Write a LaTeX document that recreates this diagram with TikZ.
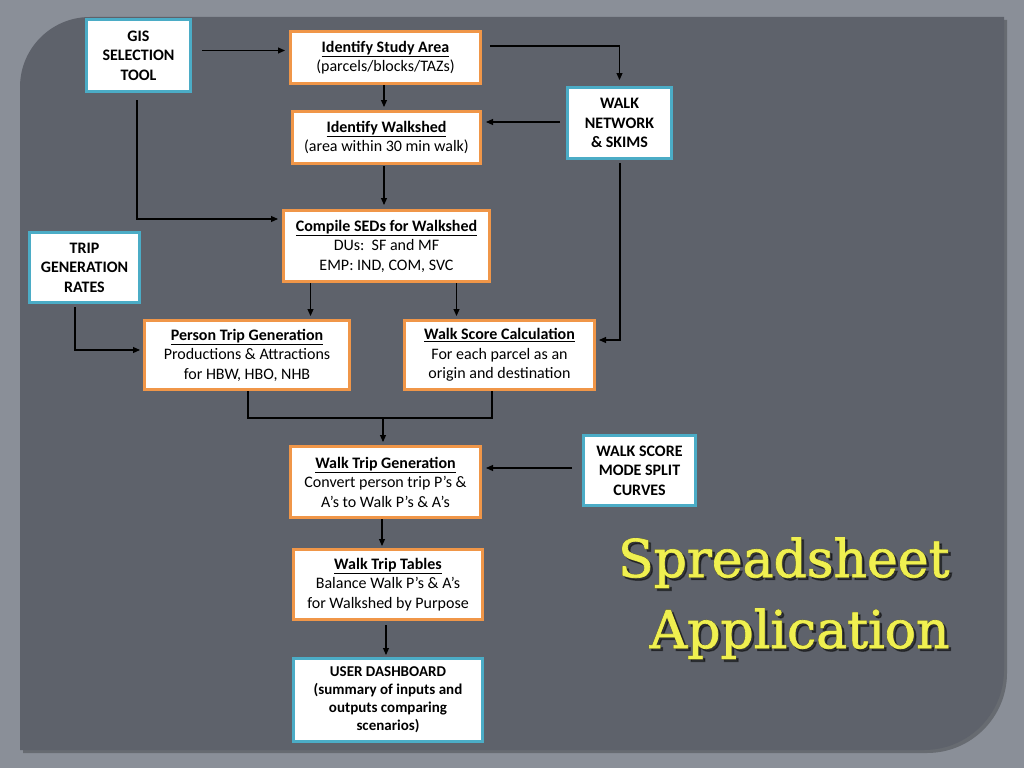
\documentclass[tikz,border=0pt]{standalone}
\usepackage{fontspec}
\setmainfont{Carlito}
\newfontfamily\titlefont{DejaVu Serif}[BoldFont={DejaVu Serif},BoldFeatures={FakeBold=1.2}]
\newfontfamily\titleoutline{DejaVu Serif}[BoldFont={DejaVu Serif},BoldFeatures={FakeBold=2.6}]
\usetikzlibrary{arrows.meta,calc}
\definecolor{outerbg}{RGB}{138,143,152}
\definecolor{panelbg}{RGB}{94,98,107}
\definecolor{obord}{RGB}{240,150,72}
\definecolor{bbord}{RGB}{75,172,198}
\definecolor{ttl}{RGB}{240,240,80}
\definecolor{ttlline}{RGB}{110,110,40}
\tikzset{
  box/.style={draw, line width=3pt, fill=white, align=center, inner sep=0pt,
    font=\fontsize{16}{19.5}\selectfont, text=black},
  obox/.style={box, draw=obord},
  bbox/.style={box, draw=bbord, font=\fontsize{16}{19.5}\selectfont\bfseries},
  arr/.style={draw=black, line width=1.1pt, -{Triangle[length=7pt,width=6pt]}},
  lin/.style={draw=black, line width=1.1pt},
  ttlstyle/.style={anchor=base east, align=right, font=\titlefont\bfseries\fontsize{52}{71}\selectfont},
  ttlout/.style={anchor=base east, align=right, font=\titleoutline\bfseries\fontsize{52}{71}\selectfont},
}
\newcommand{\hd}[1]{\textbf{\underline{#1}}}
\begin{document}
\begin{tikzpicture}[x=1pt,y=-1pt]
\useasboundingbox (0,0) rectangle (1024,768);
\fill[outerbg] (0,0) rectangle (1024,768);
% panel shadow
\fill[black,opacity=0.25] (23,753) -- (23,90) arc[start angle=180,end angle=270,radius=70] -- (1007,20) -- (1007,673) arc[start angle=0,end angle=90,radius=80] -- cycle;
\fill[panelbg] (20,750) -- (20,87) arc[start angle=180,end angle=270,radius=70] -- (1004,17) -- (1004,670) arc[start angle=0,end angle=90,radius=80] -- cycle;

\node[bbox, minimum width=104, minimum height=72] (gis) at (138.5,55.5) {GIS\\SELECTION\\TOOL};
\node[obox, minimum width=190, minimum height=52] (study) at (385.5,57.5) {\hd{Identify Study Area}\\(parcels/blocks/TAZs)};
\node[bbox, minimum width=104, minimum height=71] (walknet) at (619.5,123) {WALK\\NETWORK\\\& SKIMS};
\node[obox, minimum width=188, minimum height=52] (walkshed) at (386.5,137.5) {\hd{Identify Walkshed}\\(area within 30 min walk)};
\node[obox, minimum width=206, minimum height=71] (compile) at (386.5,246) {\hd{Compile SEDs for Walkshed}\\DUs:\ \ SF and MF\\EMP: IND, COM, SVC};
\node[bbox, minimum width=110, minimum height=70] (trip) at (84.5,267.5) {TRIP\\GENERATION\\RATES};
\node[obox, minimum width=205, minimum height=69] (person) at (247,355) {\hd{Person Trip Generation}\\Productions \& Attractions\\for HBW, HBO, NHB};
\node[obox, minimum width=190, minimum height=69] (wscore) at (499.5,355) {\hd{Walk Score Calculation}\\For each parcel as an\\origin and destination};
\node[obox, minimum width=190, minimum height=71] (wtgen) at (385.5,482) {\hd{Walk Trip Generation}\\Convert person trip P’s \&\\A’s to Walk P’s \& A’s};
\node[bbox, minimum width=112, minimum height=70] (curves) at (639.5,470.5) {WALK SCORE\\MODE SPLIT\\CURVES};
\node[obox, minimum width=189, minimum height=70] (tables) at (388,584.5) {\hd{Walk Trip Tables}\\Balance Walk P’s \& A’s\\for Walkshed by Purpose};
\node[bbox, minimum width=189, minimum height=83, font=\fontsize{15}{18}\selectfont\bfseries] (dash) at (388,700) {USER DASHBOARD\\(summary of inputs and\\outputs comparing\\scenarios)};

% connectors
\draw[arr, shorten <=10pt, shorten >=4pt] ([yshift=5]gis.east) -- ([yshift=5]gis.east -| study.west);
\draw[arr, shorten >=6pt] ([xshift=8,yshift=11.5]study.east) -| (walknet.north);
\draw[arr, shorten >=3pt] ([xshift=-1.5]study.south) -- ([xshift=-1.5]study.south |- walkshed.north);
\draw[arr, shorten <=6pt, shorten >=4pt] ([yshift=1]walknet.west) -- ([yshift=1]walknet.west -| walkshed.east);
\draw[arr, shorten <=1pt, shorten >=4pt] ([xshift=-2.5]walkshed.south) -- ([xshift=-2.5]walkshed.south |- compile.north);
\draw[arr, shorten <=7pt, shorten >=4pt] ([xshift=-1.5]gis.south) |- ([yshift=27]compile.west);
\draw[arr, shorten >=3pt] ([xshift=-76]compile.south) -- ([xshift=-76]compile.south |- person.north);
\draw[arr, shorten >=3pt] ([xshift=70]compile.south) -- ([xshift=70]compile.south |- wscore.north);
\draw[arr, shorten <=3pt, shorten >=3pt] ([xshift=-9.5]trip.south) |- ([yshift=5]person.west);
\draw[arr, shorten <=3pt, shorten >=3pt] ([xshift=0.5]walknet.south) |- ([yshift=15]wscore.east);
\coordinate (mid) at ([yshift=-27]person.south -| wtgen.north);
\draw[lin] ([xshift=1]person.south) -- ([xshift=1,yshift=-27]person.south) -| ([xshift=-7.5]wscore.south);
\draw[arr, shorten >=3pt] ([xshift=-2.5]mid) -- ([xshift=-2.5]wtgen.north);
\draw[arr, shorten <=10pt, shorten >=4pt] ([yshift=2.5]curves.west) -- ([yshift=2.5]curves.west -| wtgen.east);
\draw[arr, shorten >=2pt] ([xshift=-3.5]wtgen.south) -- ([xshift=-3.5]wtgen.south |- tables.north);
\draw[arr, shorten <=4pt, shorten >=2pt] ([xshift=-2]tables.south) -- ([xshift=-2]tables.south |- dash.north);

% title: shadow, outline, fill (one two-line text each)
\node[ttlout, text=black, opacity=0.45] at (955.5,650.5) {Spreadsheet\\Application};
\node[ttlout, text=ttlline] at (953,648) {Spreadsheet\\Application};
\node[ttlstyle, text=ttl] (title) at (953,648) {Spreadsheet\\Application};
\end{tikzpicture}
\end{document}
